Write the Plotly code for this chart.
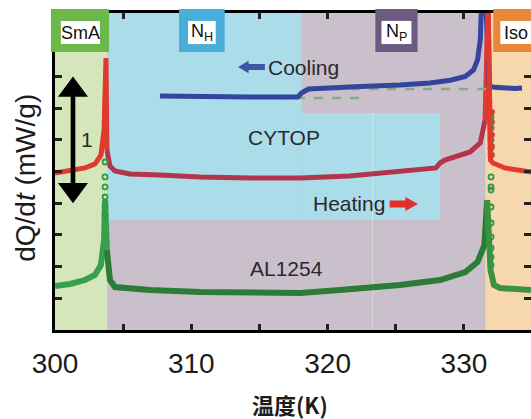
import plotly.graph_objects as go

# ---- data: DSC heat-flow traces (temperature in K, dQ/dt in mW/g, offset) ----
cool_T = [307.7, 310.6, 314.3, 317.8, 318.1, 318.6, 320.2, 322.4, 325.3, 327.5,
          329.0, 330.1, 330.7, 331.0, 331.2, 331.3, 331.6, 331.85, 332.1, 333.0,
          333.75, 334.26]
cool_Q = [1.845, 1.838, 1.838, 1.838, 1.87, 1.90, 1.912, 1.920, 1.932, 1.948,
          1.97, 2.0, 2.05, 2.13, 2.29, 2.6, 2.6, 1.93, 1.916, 1.908,
          1.905, 1.908]

heat_T = [300.0, 301.1, 302.2, 302.93, 303.37, 303.6, 303.67, 303.74, 303.81,
          304.03, 304.4, 305.5, 307.7, 310.6, 314.3, 318.0, 321.6, 325.3,
          327.95, 328.25, 328.6, 330.45, 331.2, 331.55, 331.7, 331.77, 331.95,
          332.13, 333.0, 334.92]
heat_Q = [1.238, 1.254, 1.278, 1.309, 1.38, 1.577, 2.13, 2.145, 1.42,
          1.293, 1.254, 1.23, 1.222, 1.207, 1.199, 1.199, 1.215, 1.246,
          1.278, 1.317, 1.34, 1.404, 1.475, 1.656, 2.13, 2.6, 1.34,
          1.317, 1.278, 1.246]

al_T = [300.0, 301.1, 302.2, 302.93, 303.37, 303.6, 303.67, 303.81, 304.03,
        304.4, 306.97, 310.64, 315.04, 318.0, 320.9, 325.3, 328.25, 330.1,
        331.0, 331.5, 331.7, 331.95, 332.2, 332.65, 334.92]
al_Q = [0.347, 0.363, 0.394, 0.434, 0.513, 0.71, 1.025, 0.63, 0.394,
        0.339, 0.315, 0.30, 0.292, 0.292, 0.315, 0.355, 0.394, 0.457,
        0.536, 0.67, 1.025, 0.473, 0.355, 0.331, 0.315]

# sparse points on the steep transition flanks
al_pts_T = [303.67] * 6 + [331.99] * 15
al_pts_Q = [1.325, 1.207, 1.128, 1.049, 0.970, 0.907,
            1.680, 1.640, 1.593, 1.498, 1.435, 1.380, 1.207, 1.128, 1.104,
            0.970, 0.844, 0.734, 0.647, 0.576, 0.513]
heat_pts_T = [332.05] * 5
heat_pts_Q = [1.72, 1.64, 1.54, 1.45, 1.38]

# baseline extrapolations
base_lo_T, base_lo_Q = [316.36, 322.4], [1.83, 1.83]
base_hi_T, base_hi_Q = [320.4, 333.9], [1.90, 1.90]

# phase boundaries (K)
T_smA, T_np, T_iso = 303.82, 318.1, 331.6
T_film_edge = 328.25
Q_film_lo, Q_film_hi = 0.867, 1.711

scale_bar_Q = 1.0          # length of the vertical scale bar, mW/g
scale_bar_base = 1.0

x0, x1 = 300.0, 334.92
y0, y1 = 0.0, 2.5
yticks = [0.25, 0.5, 0.75, 1.0, 1.25, 1.5, 1.75, 2.0, 2.25]
xticks = [300, 305, 310, 315, 320, 325, 330]
xtick_text = ["300", "", "310", "", "320", "", "330"]

FONT = "Liberation Sans, Arial, sans-serif"
INK = "#1c1c1c"

fig = go.Figure()


def segments(T, Q, edges):
    """Split a curve into pieces at the given temperatures."""
    out = []
    bounds = [-1e9] + edges + [1e9]
    for a, b in zip(bounds[:-1], bounds[1:]):
        seg = [(t, q) for t, q in zip(T, Q) if a <= t <= b]
        if seg:
            out.append(([s[0] for s in seg], [s[1] for s in seg]))
    return out


# heating trace on CYTOP
red_cols = ["#e0392d", "#b3344b", "#e23a2e"]
for (t, q), c in zip(segments(heat_T, heat_Q, [303.81, 331.55]), red_cols):
    fig.add_trace(go.Scatter(x=t, y=q, mode="lines",
                             line=dict(color=c, width=5), hoverinfo="skip"))
fig.add_trace(go.Scatter(x=heat_pts_T, y=heat_pts_Q, mode="markers",
                         marker=dict(color="#e0392d", size=6), hoverinfo="skip"))

# heating trace on AL1254
green_cols = ["#36a14b", "#2c7b37", "#3d9140"]
for (t, q), c in zip(segments(al_T, al_Q, [303.81, 331.7]), green_cols):
    fig.add_trace(go.Scatter(x=t, y=q, mode="lines",
                             line=dict(color=c, width=6), hoverinfo="skip"))
fig.add_trace(go.Scatter(x=al_pts_T, y=al_pts_Q, mode="markers",
                         marker=dict(color="rgba(0,0,0,0)", size=5,
                                     line=dict(color="#2f9a45", width=1.8)),
                         hoverinfo="skip"))

# dashed baselines
for t, q in [(base_lo_T, base_lo_Q), (base_hi_T, base_hi_Q)]:
    fig.add_trace(go.Scatter(x=t, y=q, mode="lines",
                             line=dict(color="#7fae83", width=2.5, dash="dash"),
                             hoverinfo="skip"))

# cooling trace
fig.add_trace(go.Scatter(x=cool_T, y=cool_Q, mode="lines",
                         line=dict(color="#33459c", width=5), hoverinfo="skip"))

# heating again on top so the red peak sits over the blue one
fig.add_trace(go.Scatter(x=heat_T[-6:-3], y=heat_Q[-6:-3], mode="lines",
                         line=dict(color="#e0392d", width=5), hoverinfo="skip"))

shapes = []
# phase backgrounds
shapes += [
    dict(type="rect", xref="x", yref="y", x0=x0, x1=T_smA, y0=y0, y1=y1,
         fillcolor="#d5e6ba", line_width=0, layer="below"),
    dict(type="rect", xref="x", yref="y", x0=T_smA, x1=T_iso, y0=y0, y1=y1,
         fillcolor="#c9c0cb", line_width=0, layer="below"),
    dict(type="rect", xref="x", yref="y", x0=T_smA, x1=T_np, y0=Q_film_lo, y1=y1,
         fillcolor="#abdcea", line_width=0, layer="below"),
    dict(type="rect", xref="x", yref="y", x0=T_np, x1=T_film_edge, y0=Q_film_lo,
         y1=Q_film_hi, fillcolor="#abdcea", line_width=0, layer="below"),
    dict(type="rect", xref="x", yref="y", x0=T_iso, x1=x1, y0=y0, y1=y1,
         fillcolor="#f7d7ae", line_width=0, layer="below"),
    dict(type="line", xref="x", yref="y", x0=323.3, x1=323.3, y0=y0, y1=Q_film_hi,
         line=dict(color="rgba(255,255,255,0.35)", width=1), layer="below"),
]


def px(T):
    return (T - x0) / (x1 - x0)


# phase label boxes along the top edge
boxes = [
    ("SmA", 299.7, 303.96, "#6cb84b", 0.73, 0.66),
    ("N<sub>H</sub>", 309.1, 312.45, "#4aaedb", 0.66, 0.66),
    ("N<sub>P</sub>", 323.5, 326.6, "#6b5a82", 0.45, 0.45),
    ("Iso", 332.15, 335.3, "#e8873a", 0.52, 0.3),
]
for label, a, b, col, pl, pr in boxes:
    shapes.append(dict(type="rect", xref="paper", yref="paper",
                       x0=px(a), x1=px(b), y0=0.877, y1=1.013,
                       fillcolor=col, line_width=0, layer="above"))
    shapes.append(dict(type="rect", xref="paper", yref="paper",
                       x0=px(a + pl), x1=px(b - pr), y0=0.902, y1=0.975,
                       fillcolor="white", line_width=0, layer="above"))
    fig.add_annotation(x=(a + b) / 2 + (pl - pr) / 2, y=0.938, xref="x", yref="paper",
                       xanchor="center", yanchor="middle",
                       text=label, showarrow=False,
                       font=dict(family=FONT, size=18, color="#111"))

# vertical scale bar (double arrow)
bx, hw, sw, hl = 301.32, 1.1, 0.17, 0.16
b0, b1 = scale_bar_base, scale_bar_base + scale_bar_Q
shapes.append(dict(
    type="path", xref="x", yref="y", fillcolor="black", line_width=0, layer="above",
    path=(f"M{bx},{b1} L{bx + hw},{b1 - hl} L{bx + sw},{b1 - hl} "
          f"L{bx + sw},{b0 + hl} L{bx + hw},{b0 + hl} L{bx},{b0} "
          f"L{bx - hw},{b0 + hl} L{bx - sw},{b0 + hl} L{bx - sw},{b1 - hl} "
          f"L{bx - hw},{b1 - hl} Z")))

# direction arrows
cy, ch, cs = 2.074, 0.05, 0.024
shapes.append(dict(
    type="path", xref="x", yref="y", fillcolor="#3b57a6", line_width=0, layer="above",
    path=(f"M313.43,{cy} L314.2,{cy + ch} L314.2,{cy + cs} L315.4,{cy + cs} "
          f"L315.4,{cy - cs} L314.2,{cy - cs} L314.2,{cy - ch} Z")))
hy, hh, hs = 0.994, 0.055, 0.028
shapes.append(dict(
    type="path", xref="x", yref="y", fillcolor="#e0302a", line_width=0, layer="above",
    path=(f"M326.63,{hy} L325.7,{hy + hh} L325.7,{hy + hs} L324.55,{hy + hs} "
          f"L324.55,{hy - hs} L325.7,{hy - hs} L325.7,{hy - hh} Z")))

fig.update_layout(shapes=shapes)

# in-plot text
texts = [
    ("Cooling", 318.25, 2.07),
    ("CYTOP", 316.8, 1.515),
    ("Heating", 321.6, 0.994),
    ("AL1254", 317.0, 0.488),
    ("1", 302.38, 1.5),
]
for txt, tx, ty in texts:
    fig.add_annotation(x=tx, y=ty, xref="x", yref="y", text=txt, showarrow=False,
                       xanchor="center", yanchor="middle",
                       font=dict(family=FONT, size=21, color="#2a2a2a"))

# axis titles
fig.add_annotation(x=-0.061, y=0.48, xref="paper", yref="paper",
                   xanchor="center", yanchor="middle",
                   text="dQ/d<i>t</i> (mW/g)", textangle=-90, showarrow=False,
                   font=dict(family=FONT, size=28, color=INK))
fig.add_annotation(x=0.494, y=-0.235, xref="paper", yref="paper",
                   xanchor="center", yanchor="middle",
                   text="<b>温度(K)</b>", showarrow=False,
                   font=dict(family="Noto Sans CJK SC", size=22, color=INK))

fig.update_layout(
    width=531, height=419,
    margin=dict(l=55, r=0, t=13, b=89),
    paper_bgcolor="white", plot_bgcolor="white",
    showlegend=False,
    xaxis=dict(range=[x0, x1], tickvals=xticks, ticktext=xtick_text,
               ticks="inside", ticklen=6, tickwidth=3, tickcolor="#222",
               showline=True, linewidth=3, linecolor="black", mirror="ticks",
               showgrid=False, zeroline=False, ticklabelstandoff=6,
               tickfont=dict(family=FONT, size=28, color=INK)),
    yaxis=dict(range=[y0, y1], tickvals=yticks, showticklabels=False,
               ticks="inside", ticklen=7, tickwidth=3, tickcolor="#222",
               showline=True, linewidth=3, linecolor="black",
               showgrid=False, zeroline=False),
    yaxis2=dict(range=[y0, y1], tickvals=yticks, showticklabels=False,
                overlaying="y", side="right", ticks="inside", ticklen=7,
                tickwidth=3, tickcolor="#222", showline=False,
                showgrid=False, zeroline=False),
)
fig.add_trace(go.Scatter(x=[x0], y=[y0], yaxis="y2", mode="markers",
                         marker=dict(size=0.1, color="rgba(0,0,0,0)"),
                         hoverinfo="skip"))

fig.write_html("out.html")
